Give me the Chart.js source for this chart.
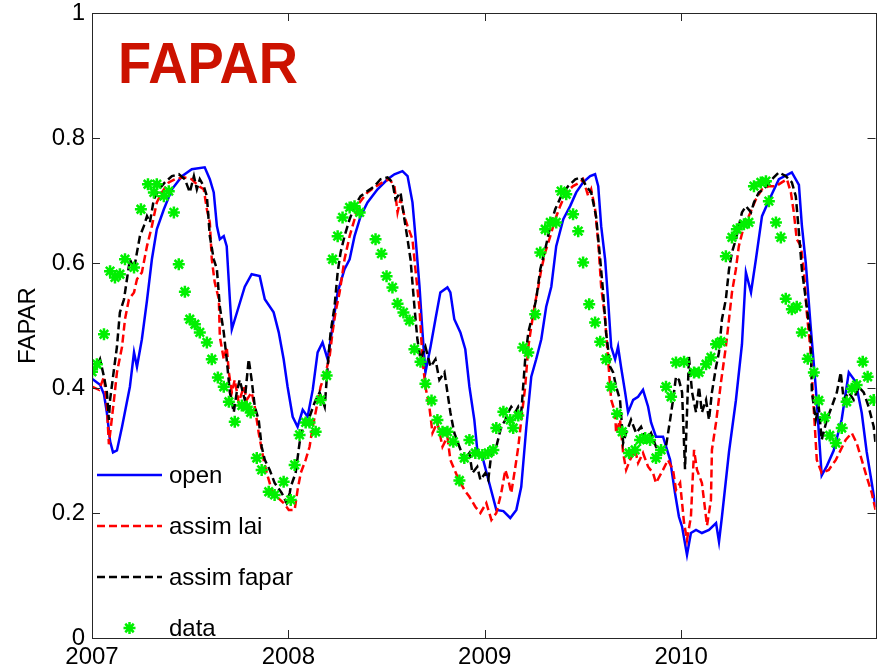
<!DOCTYPE html>
<html>
<head>
<meta charset="utf-8">
<title>FAPAR</title>
<script src="https://cdn.jsdelivr.net/npm/chart.js@4.4.1/dist/chart.umd.min.js"></script>
<style>
  html, body { margin: 0; padding: 0; background: #fff; }
  #wrap { width: 884px; height: 671px; }
</style>
</head>
<body>
<div id="wrap"><canvas id="fapar" width="884" height="671"></canvas></div>
<script>
// time in decimal years, value = FAPAR
const openRun = [
  [2007.000, 0.415], [2007.041, 0.405], [2007.061, 0.390], [2007.076, 0.360], [2007.092, 0.315],
  [2007.107, 0.297], [2007.127, 0.300], [2007.153, 0.338], [2007.173, 0.370], [2007.193, 0.402],
  [2007.214, 0.457], [2007.229, 0.434], [2007.254, 0.478], [2007.280, 0.540], [2007.305, 0.606],
  [2007.330, 0.654], [2007.366, 0.686], [2007.407, 0.718], [2007.458, 0.739], [2007.508, 0.750],
  [2007.574, 0.753], [2007.600, 0.734], [2007.620, 0.713], [2007.636, 0.659], [2007.651, 0.638],
  [2007.671, 0.643], [2007.686, 0.627], [2007.702, 0.542], [2007.712, 0.494], [2007.747, 0.530],
  [2007.778, 0.562], [2007.813, 0.582], [2007.854, 0.579], [2007.880, 0.542], [2007.925, 0.521],
  [2007.951, 0.489], [2007.976, 0.446], [2007.996, 0.402],
  [2008.022, 0.354], [2008.047, 0.338], [2008.073, 0.365], [2008.098, 0.354], [2008.124, 0.397],
  [2008.149, 0.457], [2008.174, 0.473], [2008.200, 0.446], [2008.225, 0.498], [2008.251, 0.553],
  [2008.286, 0.590], [2008.312, 0.606], [2008.337, 0.643], [2008.368, 0.675], [2008.403, 0.697],
  [2008.454, 0.718], [2008.505, 0.734], [2008.540, 0.742], [2008.581, 0.747], [2008.607, 0.739],
  [2008.632, 0.697], [2008.647, 0.643], [2008.668, 0.562], [2008.683, 0.489], [2008.698, 0.425],
  [2008.724, 0.466], [2008.749, 0.510], [2008.774, 0.553], [2008.810, 0.561], [2008.825, 0.553],
  [2008.845, 0.510], [2008.876, 0.489], [2008.901, 0.462], [2008.922, 0.402], [2008.947, 0.349],
  [2008.962, 0.301], [2008.988, 0.290],
  [2009.023, 0.248], [2009.059, 0.205], [2009.095, 0.203], [2009.130, 0.192], [2009.161, 0.205],
  [2009.186, 0.242], [2009.212, 0.338], [2009.237, 0.418], [2009.262, 0.446], [2009.288, 0.478],
  [2009.313, 0.530], [2009.339, 0.562], [2009.364, 0.627], [2009.400, 0.670], [2009.435, 0.691],
  [2009.466, 0.713], [2009.501, 0.729], [2009.537, 0.739], [2009.562, 0.742], [2009.578, 0.723],
  [2009.593, 0.659], [2009.613, 0.606], [2009.628, 0.542], [2009.644, 0.466], [2009.664, 0.446],
  [2009.679, 0.466], [2009.694, 0.434], [2009.715, 0.393], [2009.730, 0.361], [2009.756, 0.381],
  [2009.781, 0.386], [2009.806, 0.397], [2009.832, 0.370], [2009.847, 0.345], [2009.872, 0.322],
  [2009.908, 0.322], [2009.944, 0.285], [2009.969, 0.232], [2009.989, 0.194],
  [2010.005, 0.178], [2010.030, 0.133], [2010.050, 0.168], [2010.076, 0.173], [2010.106, 0.168],
  [2010.142, 0.173], [2010.178, 0.184], [2010.193, 0.154], [2010.208, 0.194], [2010.244, 0.298],
  [2010.279, 0.380], [2010.310, 0.470], [2010.330, 0.585], [2010.356, 0.553], [2010.381, 0.606],
  [2010.412, 0.675], [2010.447, 0.700], [2010.498, 0.734], [2010.564, 0.745], [2010.600, 0.725],
  [2010.615, 0.660], [2010.635, 0.600], [2010.660, 0.498], [2010.686, 0.400], [2010.716, 0.260],
  [2010.742, 0.275], [2010.777, 0.300], [2010.818, 0.350], [2010.854, 0.425], [2010.889, 0.410],
  [2010.920, 0.360], [2010.945, 0.298], [2010.971, 0.248], [2010.990, 0.210]
];

const assimLai = [
  [2007.000, 0.402], [2007.036, 0.397], [2007.061, 0.418], [2007.076, 0.370], [2007.086, 0.310],
  [2007.112, 0.381], [2007.127, 0.425], [2007.153, 0.466], [2007.168, 0.510], [2007.188, 0.542],
  [2007.214, 0.553], [2007.229, 0.574], [2007.254, 0.585], [2007.280, 0.627], [2007.305, 0.659],
  [2007.330, 0.697], [2007.356, 0.713], [2007.391, 0.729], [2007.422, 0.734], [2007.468, 0.737],
  [2007.508, 0.734], [2007.544, 0.723], [2007.569, 0.718], [2007.585, 0.686], [2007.600, 0.665],
  [2007.610, 0.606], [2007.625, 0.569], [2007.646, 0.542], [2007.651, 0.482], [2007.671, 0.446],
  [2007.686, 0.466], [2007.697, 0.425], [2007.712, 0.393], [2007.727, 0.413], [2007.747, 0.377],
  [2007.773, 0.402], [2007.788, 0.381], [2007.813, 0.393], [2007.829, 0.370], [2007.849, 0.328],
  [2007.874, 0.285], [2007.890, 0.264], [2007.915, 0.237], [2007.941, 0.226], [2007.976, 0.216],
  [2008.002, 0.205], [2008.032, 0.205], [2008.047, 0.237], [2008.063, 0.264], [2008.088, 0.285],
  [2008.108, 0.306], [2008.124, 0.338], [2008.149, 0.377], [2008.164, 0.402], [2008.190, 0.425],
  [2008.210, 0.450], [2008.225, 0.489], [2008.240, 0.521], [2008.261, 0.553], [2008.286, 0.606],
  [2008.312, 0.643], [2008.337, 0.670], [2008.363, 0.697], [2008.403, 0.713], [2008.439, 0.721],
  [2008.479, 0.729], [2008.515, 0.734], [2008.540, 0.723], [2008.556, 0.681], [2008.571, 0.702],
  [2008.591, 0.675], [2008.607, 0.659], [2008.632, 0.638], [2008.647, 0.590], [2008.668, 0.526],
  [2008.683, 0.446], [2008.698, 0.402], [2008.718, 0.370], [2008.734, 0.328], [2008.759, 0.345],
  [2008.785, 0.306], [2008.810, 0.322], [2008.825, 0.285], [2008.861, 0.258], [2008.896, 0.237],
  [2008.922, 0.226], [2008.952, 0.210], [2008.978, 0.200],
  [2009.008, 0.216], [2009.034, 0.189], [2009.059, 0.200], [2009.084, 0.232], [2009.105, 0.269],
  [2009.120, 0.253], [2009.135, 0.232], [2009.156, 0.274], [2009.171, 0.306], [2009.186, 0.349],
  [2009.206, 0.402], [2009.222, 0.466], [2009.237, 0.498], [2009.257, 0.537], [2009.273, 0.562],
  [2009.288, 0.590], [2009.308, 0.617], [2009.334, 0.643], [2009.359, 0.670], [2009.384, 0.691],
  [2009.415, 0.713], [2009.450, 0.723], [2009.486, 0.729], [2009.501, 0.734], [2009.527, 0.707],
  [2009.542, 0.718], [2009.562, 0.686], [2009.578, 0.633], [2009.593, 0.562], [2009.613, 0.510],
  [2009.628, 0.446], [2009.644, 0.381], [2009.664, 0.361], [2009.669, 0.328], [2009.689, 0.349],
  [2009.705, 0.296], [2009.720, 0.269], [2009.740, 0.285], [2009.766, 0.301], [2009.781, 0.280],
  [2009.806, 0.296], [2009.832, 0.274], [2009.857, 0.264], [2009.872, 0.248], [2009.908, 0.269],
  [2009.933, 0.285], [2009.959, 0.269], [2009.974, 0.237], [2009.995, 0.248],
  [2010.015, 0.184], [2010.030, 0.157], [2010.050, 0.194], [2010.066, 0.301], [2010.081, 0.269],
  [2010.106, 0.248], [2010.132, 0.180], [2010.152, 0.221], [2010.157, 0.301], [2010.178, 0.345],
  [2010.203, 0.409], [2010.228, 0.466], [2010.244, 0.510], [2010.259, 0.553], [2010.279, 0.590],
  [2010.294, 0.627], [2010.320, 0.659], [2010.345, 0.675], [2010.381, 0.702], [2010.412, 0.718],
  [2010.447, 0.723], [2010.483, 0.723], [2010.513, 0.729], [2010.539, 0.734], [2010.559, 0.713],
  [2010.574, 0.681], [2010.589, 0.638], [2010.610, 0.627], [2010.625, 0.590], [2010.640, 0.521],
  [2010.660, 0.457], [2010.676, 0.365], [2010.691, 0.285], [2010.716, 0.264], [2010.752, 0.269],
  [2010.788, 0.285], [2010.813, 0.301], [2010.838, 0.317], [2010.869, 0.328], [2010.894, 0.312],
  [2010.920, 0.285], [2010.945, 0.258], [2010.971, 0.232], [2010.990, 0.205]
];

const assimFapar = [
  [2007.000, 0.425], [2007.025, 0.434], [2007.041, 0.446], [2007.061, 0.418], [2007.076, 0.393],
  [2007.086, 0.349], [2007.092, 0.381], [2007.112, 0.430], [2007.127, 0.466], [2007.142, 0.521],
  [2007.163, 0.542], [2007.178, 0.574], [2007.193, 0.606], [2007.214, 0.590], [2007.229, 0.617],
  [2007.244, 0.643], [2007.264, 0.659], [2007.280, 0.675], [2007.295, 0.665], [2007.315, 0.702],
  [2007.341, 0.718], [2007.371, 0.729], [2007.407, 0.739], [2007.442, 0.742], [2007.473, 0.734],
  [2007.498, 0.713], [2007.519, 0.739], [2007.534, 0.718], [2007.549, 0.734], [2007.569, 0.723],
  [2007.585, 0.707], [2007.600, 0.643], [2007.620, 0.606], [2007.636, 0.590], [2007.651, 0.530],
  [2007.671, 0.489], [2007.686, 0.446], [2007.702, 0.393], [2007.722, 0.361], [2007.737, 0.393],
  [2007.752, 0.413], [2007.778, 0.381], [2007.798, 0.446], [2007.813, 0.413], [2007.829, 0.370],
  [2007.849, 0.349], [2007.864, 0.306], [2007.880, 0.285], [2007.905, 0.269], [2007.930, 0.248],
  [2007.966, 0.232], [2007.991, 0.216],
  [2008.007, 0.232], [2008.012, 0.242], [2008.037, 0.264], [2008.057, 0.312], [2008.083, 0.349],
  [2008.108, 0.354], [2008.134, 0.377], [2008.159, 0.393], [2008.185, 0.370], [2008.200, 0.434],
  [2008.215, 0.489], [2008.235, 0.530], [2008.251, 0.585], [2008.266, 0.617], [2008.286, 0.643],
  [2008.312, 0.670], [2008.337, 0.691], [2008.368, 0.707], [2008.403, 0.715], [2008.439, 0.723],
  [2008.469, 0.734], [2008.505, 0.737], [2008.530, 0.729], [2008.546, 0.702], [2008.571, 0.713],
  [2008.591, 0.670], [2008.607, 0.638], [2008.622, 0.606], [2008.642, 0.530], [2008.657, 0.478],
  [2008.673, 0.446], [2008.698, 0.466], [2008.724, 0.434], [2008.749, 0.446], [2008.769, 0.413],
  [2008.795, 0.425], [2008.810, 0.393], [2008.825, 0.361], [2008.845, 0.328], [2008.871, 0.306],
  [2008.896, 0.285], [2008.922, 0.296], [2008.937, 0.264], [2008.962, 0.274], [2008.978, 0.253],
  [2009.003, 0.264], [2009.018, 0.253], [2009.034, 0.296], [2009.059, 0.306], [2009.084, 0.338],
  [2009.105, 0.349], [2009.120, 0.361], [2009.135, 0.370], [2009.156, 0.361], [2009.171, 0.370],
  [2009.186, 0.361], [2009.206, 0.446], [2009.222, 0.489], [2009.247, 0.521], [2009.262, 0.542],
  [2009.283, 0.590], [2009.308, 0.622], [2009.334, 0.659], [2009.359, 0.686], [2009.389, 0.707],
  [2009.425, 0.723], [2009.461, 0.734], [2009.491, 0.737], [2009.517, 0.723], [2009.542, 0.713],
  [2009.567, 0.675], [2009.588, 0.606], [2009.603, 0.553], [2009.618, 0.489], [2009.639, 0.434],
  [2009.654, 0.425], [2009.669, 0.402], [2009.689, 0.381], [2009.705, 0.312], [2009.720, 0.328],
  [2009.745, 0.349], [2009.771, 0.328], [2009.796, 0.338], [2009.822, 0.317], [2009.847, 0.328],
  [2009.872, 0.306], [2009.898, 0.296], [2009.923, 0.306], [2009.944, 0.349], [2009.959, 0.381],
  [2009.974, 0.418], [2009.989, 0.413],
  [2010.005, 0.393], [2010.020, 0.270], [2010.040, 0.450], [2010.056, 0.393], [2010.076, 0.361],
  [2010.091, 0.402], [2010.106, 0.361], [2010.127, 0.381], [2010.142, 0.349], [2010.157, 0.393],
  [2010.178, 0.434], [2010.193, 0.457], [2010.208, 0.510], [2010.228, 0.542], [2010.244, 0.590],
  [2010.259, 0.617], [2010.279, 0.638], [2010.294, 0.659], [2010.310, 0.681], [2010.330, 0.691],
  [2010.356, 0.681], [2010.371, 0.697], [2010.396, 0.713], [2010.422, 0.718], [2010.447, 0.729],
  [2010.472, 0.737], [2010.498, 0.745], [2010.533, 0.739], [2010.564, 0.729], [2010.584, 0.707],
  [2010.600, 0.649], [2010.615, 0.590], [2010.640, 0.530], [2010.660, 0.478], [2010.666, 0.393],
  [2010.686, 0.349], [2010.701, 0.370], [2010.716, 0.317], [2010.742, 0.349], [2010.767, 0.370],
  [2010.793, 0.393], [2010.813, 0.425], [2010.828, 0.381], [2010.854, 0.393], [2010.879, 0.381],
  [2010.904, 0.402], [2010.930, 0.393], [2010.955, 0.370], [2010.981, 0.338], [2010.990, 0.312]
];

const observed = [
  [2007.000, 0.426], [2007.025, 0.438], [2007.061, 0.486], [2007.092, 0.587], [2007.117, 0.577],
  [2007.142, 0.582], [2007.168, 0.606], [2007.214, 0.593], [2007.249, 0.686], [2007.285, 0.726],
  [2007.315, 0.713], [2007.330, 0.726], [2007.366, 0.707], [2007.391, 0.715], [2007.417, 0.681],
  [2007.442, 0.598], [2007.473, 0.554], [2007.498, 0.510], [2007.524, 0.502], [2007.549, 0.489],
  [2007.585, 0.473], [2007.610, 0.446], [2007.641, 0.417], [2007.671, 0.402], [2007.697, 0.378],
  [2007.727, 0.346], [2007.763, 0.372], [2007.788, 0.370], [2007.808, 0.361], [2007.839, 0.288],
  [2007.864, 0.269], [2007.900, 0.234], [2007.930, 0.229], [2007.976, 0.250],
  [2008.012, 0.221], [2008.032, 0.277], [2008.057, 0.325], [2008.088, 0.345], [2008.108, 0.345],
  [2008.139, 0.330], [2008.164, 0.381], [2008.195, 0.420], [2008.225, 0.606], [2008.251, 0.643],
  [2008.276, 0.673], [2008.312, 0.689], [2008.337, 0.691], [2008.363, 0.681], [2008.444, 0.638],
  [2008.474, 0.615], [2008.500, 0.579], [2008.530, 0.561], [2008.556, 0.535], [2008.586, 0.521],
  [2008.617, 0.508], [2008.642, 0.462], [2008.673, 0.442], [2008.698, 0.407], [2008.729, 0.380],
  [2008.759, 0.349], [2008.785, 0.330], [2008.810, 0.330], [2008.840, 0.314], [2008.871, 0.252],
  [2008.896, 0.288], [2008.922, 0.317], [2008.952, 0.296], [2008.988, 0.293],
  [2009.018, 0.296], [2009.044, 0.301], [2009.059, 0.336], [2009.095, 0.362], [2009.130, 0.349],
  [2009.145, 0.336], [2009.171, 0.356], [2009.196, 0.465], [2009.222, 0.457], [2009.257, 0.518],
  [2009.283, 0.617], [2009.308, 0.654], [2009.334, 0.665], [2009.364, 0.665], [2009.389, 0.715],
  [2009.415, 0.710], [2009.450, 0.678], [2009.476, 0.651], [2009.501, 0.601], [2009.532, 0.534],
  [2009.562, 0.505], [2009.588, 0.474], [2009.618, 0.446], [2009.644, 0.402], [2009.674, 0.359],
  [2009.700, 0.330], [2009.735, 0.296], [2009.766, 0.301], [2009.791, 0.317], [2009.817, 0.320],
  [2009.842, 0.317], [2009.872, 0.288], [2009.898, 0.301], [2009.923, 0.402], [2009.949, 0.386],
  [2009.974, 0.441],
  [2010.015, 0.442], [2010.066, 0.425], [2010.091, 0.425], [2010.127, 0.438], [2010.152, 0.449],
  [2010.178, 0.470], [2010.203, 0.474], [2010.228, 0.611], [2010.259, 0.641], [2010.284, 0.654],
  [2010.320, 0.662], [2010.345, 0.665], [2010.371, 0.723], [2010.406, 0.729], [2010.432, 0.731],
  [2010.447, 0.699], [2010.483, 0.665], [2010.508, 0.641], [2010.533, 0.543], [2010.564, 0.526],
  [2010.589, 0.530], [2010.615, 0.489], [2010.645, 0.447], [2010.676, 0.425], [2010.701, 0.380],
  [2010.732, 0.353], [2010.757, 0.324], [2010.788, 0.312], [2010.818, 0.336], [2010.843, 0.378],
  [2010.869, 0.399], [2010.894, 0.405], [2010.925, 0.442], [2010.950, 0.418], [2010.981, 0.381]
];

const yearTicks = [2007, 2008, 2009, 2010];
const faparTicks = [0, 0.2, 0.4, 0.6, 0.8, 1];

const FONT = '"Liberation Sans", Arial, Helvetica, sans-serif';
const AXIS_COLOR = '#262626';

const toPoints = rows => rows.map(([t, v]) => ({ x: t, y: v }));

// MATLAB-like axes: full box with ticks pointing inward on all sides
const axesBox = {
    id: 'axesBox',
    afterDatasetsDraw(chart) {
        const { ctx, chartArea: a, scales } = chart;
        const tick = 8;
        ctx.save();
        ctx.strokeStyle = AXIS_COLOR;
        ctx.lineWidth = 1;
        ctx.beginPath();
        yearTicks.forEach(v => {
            const x = Math.round(scales.x.getPixelForValue(v)) + 0.5;
            ctx.moveTo(x, a.bottom); ctx.lineTo(x, a.bottom - tick);
            ctx.moveTo(x, a.top); ctx.lineTo(x, a.top + tick);
        });
        faparTicks.forEach(v => {
            const y = Math.round(scales.y.getPixelForValue(v)) + 0.5;
            ctx.moveTo(a.left, y); ctx.lineTo(a.left + tick, y);
            ctx.moveTo(a.right, y); ctx.lineTo(a.right - tick, y);
        });
        ctx.stroke();
        ctx.strokeRect(Math.round(a.left) + 0.5, Math.round(a.top) + 0.5,
            Math.round(a.right - a.left), Math.round(a.bottom - a.top));
        ctx.restore();
    }
};

// legend without a frame, lower left inside the axes
const insideLegend = {
    id: 'insideLegend',
    afterDatasetsDraw(chart) {
        const { ctx, chartArea: a } = chart;
        const rows = chart.data.datasets.slice().reverse();
        ctx.save();
        ctx.font = '24px ' + FONT;
        ctx.fillStyle = '#000';
        ctx.textBaseline = 'alphabetic';
        rows.forEach((ds, i) => {
            const y = a.bottom - 163 + i * 51;
            const x0 = a.left + 5, x1 = a.left + 70;
            if (ds.showLine === false) {
                ctx.strokeStyle = ds.pointBorderColor;
                ctx.lineWidth = ds.pointBorderWidth;
                Chart.helpers.drawPoint(ctx, { pointStyle: 'star', radius: ds.pointRadius, borderWidth: ds.pointBorderWidth, rotation: 0 }, (x0 + x1) / 2, y);
            } else {
                ctx.strokeStyle = ds.borderColor;
                ctx.lineWidth = ds.borderWidth;
                ctx.setLineDash(ds.borderDash || []);
                ctx.beginPath();
                ctx.moveTo(x0, y); ctx.lineTo(x1, y);
                ctx.stroke();
                ctx.setLineDash([]);
            }
            ctx.fillText(ds.label, a.left + 77, y + 8);
        });
        ctx.restore();
    }
};

// big red panel title in the upper left corner
const panelTitle = {
    id: 'panelTitle',
    afterDraw(chart) {
        const { ctx, chartArea: a } = chart;
        ctx.save();
        ctx.font = 'bold 58px ' + FONT;
        ctx.fillStyle = 'rgb(204, 18, 0)';
        ctx.textBaseline = 'alphabetic';
        const w = ctx.measureText('FAPAR').width;
        ctx.translate(a.left + 26, a.top + 70);
        ctx.scale(180 / w, 1);
        ctx.fillText('FAPAR', 0, 0);
        ctx.restore();
    }
};

new Chart(document.getElementById('fapar'), {
    type: 'line',
    data: {
        datasets: [
            {
                label: 'data', data: toPoints(observed), showLine: false,
                pointStyle: 'star', pointRadius: 6, pointBorderWidth: 2.5,
                pointBorderColor: '#00f000', pointBackgroundColor: '#00f000',
                borderColor: '#00f000', order: 0
            },
            {
                label: 'assim fapar', data: toPoints(assimFapar), borderColor: '#000000',
                borderWidth: 2.5, borderDash: [8, 4], pointRadius: 0, order: 1
            },
            {
                label: 'assim lai', data: toPoints(assimLai), borderColor: '#ff0000',
                borderWidth: 2.5, borderDash: [8, 4], pointRadius: 0, order: 2
            },
            {
                label: 'open', data: toPoints(openRun), borderColor: '#0000ff',
                borderWidth: 2.5, pointRadius: 0, order: 3
            }
        ]
    },
    options: {
        responsive: false,
        animation: false,
        events: [],
        layout: { padding: { top: 13, right: 6, left: 0, bottom: 0 } },
        plugins: { legend: { display: false }, tooltip: { enabled: false } },
        scales: {
            x: {
                type: 'linear', min: 2007, max: 2010.99,
                afterFit: s => { s.height = 33; s.paddingLeft = 0; s.paddingRight = 0; },
                afterBuildTicks: s => { s.ticks = yearTicks.map(v => ({ value: v })); },
                grid: { display: false, drawTicks: false },
                border: { display: false },
                ticks: {
                    font: { family: FONT, size: 24 }, color: '#000', padding: 5,
                    maxRotation: 0, autoSkip: false, callback: v => String(v)
                }
            },
            y: {
                type: 'linear', min: 0, max: 1,
                afterFit: s => { s.width = 92; s.paddingTop = 0; s.paddingBottom = 0; },
                afterBuildTicks: s => { s.ticks = faparTicks.map(v => ({ value: v })); },
                grid: { display: false, drawTicks: false },
                border: { display: false },
                ticks: {
                    font: { family: FONT, size: 24 }, color: '#000', padding: 7,
                    autoSkip: false, callback: v => String(v)
                },
                title: {
                    display: true, text: 'FAPAR', color: '#000',
                    font: { family: FONT, size: 24 }, padding: { top: 14, bottom: 0 }
                }
            }
        }
    },
    plugins: [axesBox, insideLegend, panelTitle]
});
</script>
</body>
</html>
